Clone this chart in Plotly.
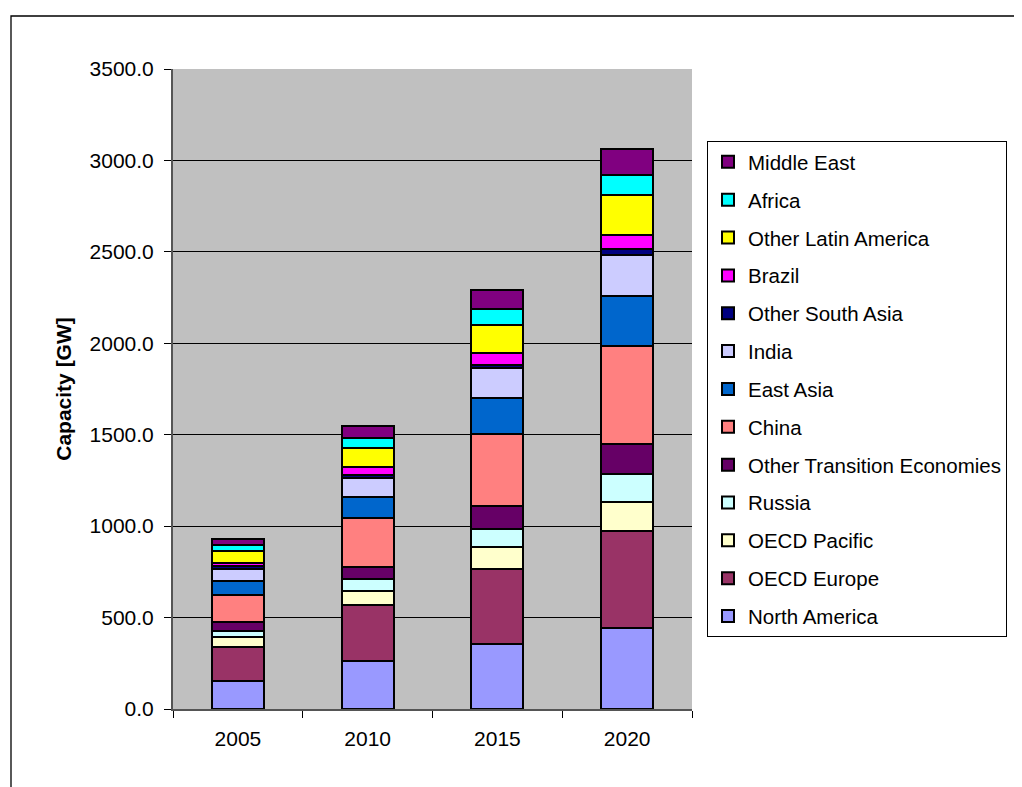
import plotly.graph_objects as go

years = ["2005", "2010", "2015", "2020"]

north_america = [152, 264, 354, 442]
oecd_europe = [187, 307, 414, 534]
oecd_pacific = [55, 77, 120, 155]
russia = [33, 65, 99, 154]
other_transition = [47, 66, 123, 164]
china = [152, 263, 394, 536]
east_asia = [74, 120, 197, 272]
india = [68, 99, 164, 228]
other_south_asia = [13, 20, 18, 29]
brazil = [18, 44, 66, 77]
other_latin_america = [66, 100, 153, 220]
africa = [34, 55, 88, 110]
middle_east = [33, 65, 100, 142]

series = [
    ("North America", north_america, "#9999FF"),
    ("OECD Europe", oecd_europe, "#993366"),
    ("OECD Pacific", oecd_pacific, "#FFFFCC"),
    ("Russia", russia, "#CCFFFF"),
    ("Other Transition Economies", other_transition, "#660066"),
    ("China", china, "#FF8080"),
    ("East Asia", east_asia, "#0066CC"),
    ("India", india, "#CCCCFF"),
    ("Other South Asia", other_south_asia, "#000080"),
    ("Brazil", brazil, "#FF00FF"),
    ("Other Latin America", other_latin_america, "#FFFF00"),
    ("Africa", africa, "#00FFFF"),
    ("Middle East", middle_east, "#800080"),
]

FONT = "Arial, Liberation Sans, sans-serif"

fig = go.Figure()
n = len(series)
for i, (name, vals, col) in enumerate(series):
    fig.add_trace(go.Bar(
        x=years, y=vals, name=name, legendgroup=f"g{i}",
        legendrank=100 + (n - i),
        marker=dict(color=col, line=dict(color="black", width=2)),
    ))

# page has an 8px body margin; work in window coordinates and shift
OFF = 8
W, H = 1022 - OFF, 787 - OFF
L, R, T, B = 173 - OFF, 692 - OFF, 69 - OFF, 709 - OFF

def px(x):
    return (x - OFF - L) / (R - L)

def py(y):
    return (B - (y - OFF)) / (B - T)

fig.update_layout(
    width=W, height=H,
    margin=dict(l=L, r=W - R, t=T, b=H - B, autoexpand=False),
    barmode="stack", bargap=0.6,
    paper_bgcolor="white", plot_bgcolor="#C0C0C0",
    font=dict(family=FONT, size=21, color="black"),
    showlegend=True,
    legend=dict(
        x=px(707), y=py(141), xanchor="left", yanchor="top",
        bordercolor="black", borderwidth=1, bgcolor="white",
        traceorder="grouped", tracegroupgap=8.2,
        font=dict(family=FONT, size=20.5, color="black"),
        itemwidth=30,
    ),
    shapes=[
        dict(type="rect", xref="paper", yref="paper",
             x0=px(11), x1=px(1040), y0=py(800), y1=py(16),
             line=dict(color="black", width=1.3), fillcolor="rgba(0,0,0,0)",
             layer="below"),
    ],
)

fig.update_yaxes(
    range=[0, 3500], dtick=500, tickformat=".1f",
    showgrid=True, gridcolor="black", gridwidth=1,
    showline=True, linecolor="#555555", linewidth=2,
    ticks="outside", ticklen=7, tickcolor="black",
    ticklabelstandoff=6,
    tickfont=dict(size=21, family=FONT),
    title=dict(text="<b>Capacity [GW]</b>", font=dict(size=21, family=FONT), standoff=12),
    zeroline=False,
)
fig.update_xaxes(
    showline=True, linecolor="#555555", linewidth=2,
    ticks="outside", ticklen=7, tickcolor="black", tickson="boundaries",
    ticklabelstandoff=10,
    tickfont=dict(size=21, family=FONT),
)

fig.write_html("out.html")
